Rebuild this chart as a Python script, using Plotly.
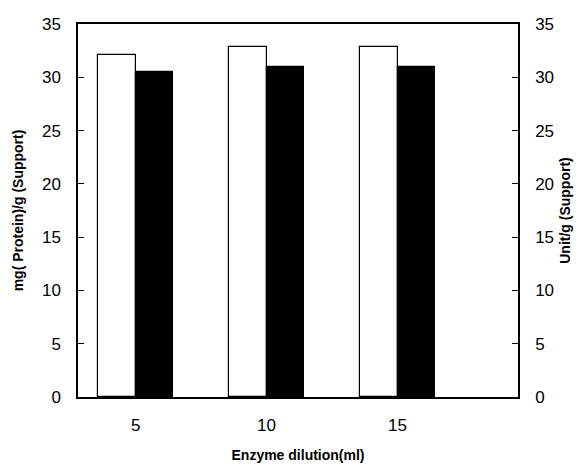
import plotly.graph_objects as go

categories = [5, 10, 15]
protein = [32.1, 32.8, 32.8]
activity = [30.5, 31.0, 31.0]
y_ticks = [0, 5, 10, 15, 20, 25, 30, 35]

FONT = "Arial, Liberation Sans, sans-serif"
bw = 1.43

fig = go.Figure()
fig.add_trace(go.Bar(x=categories, y=protein, width=bw, offset=-bw,
                     marker=dict(color="white", line=dict(color="black", width=1.2)),
                     showlegend=False))
fig.add_trace(go.Bar(x=categories, y=activity, width=bw, offset=0, yaxis="y2",
                     marker=dict(color="black", line=dict(color="black", width=1.2)),
                     showlegend=False))

fig.update_layout(
    width=585, height=464,
    margin=dict(l=70, r=75, t=16, b=75),
    paper_bgcolor="white", plot_bgcolor="white",
    font=dict(family=FONT, color="black"),
    xaxis=dict(range=[2.8, 19.6], tickvals=categories, ticktext=[str(c) for c in categories],
               showgrid=False, zeroline=False, showline=True, linecolor="black", linewidth=1.5,
               mirror=True, ticks="", tickfont=dict(size=17), ticklabelstandoff=12,
               automargin=False,
               title=dict(text="<b>Enzyme dilution(ml)</b>", font=dict(size=14), standoff=16)),
    yaxis=dict(range=[0, 35], tickvals=y_ticks, showgrid=False, zeroline=False,
               showline=True, linecolor="black", linewidth=1.5,
               ticks="inside", ticklen=6, tickcolor="black", tickfont=dict(size=17),
               ticklabelstandoff=12, automargin=False,
               title=dict(text="<b>mg( Protein)/g (Support)</b>", font=dict(size=14), standoff=15)),
    yaxis2=dict(range=[0, 35], tickvals=y_ticks, overlaying="y", side="right",
                showgrid=False, zeroline=False, showline=True, linecolor="black", linewidth=1.5,
                ticks="inside", ticklen=6, tickcolor="black", tickfont=dict(size=17),
                ticklabelstandoff=12, automargin=False,
                title=dict(text="<b>Unit/g (Support)</b>", font=dict(size=14), standoff=7)),
    bargap=0,
)

fig.write_html("out.html")
